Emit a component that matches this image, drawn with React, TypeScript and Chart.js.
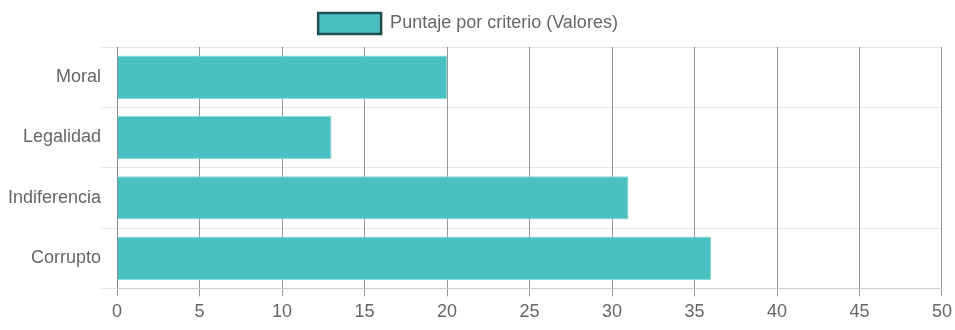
import React, { useEffect, useRef } from "react";
import { Chart, registerables } from "chart.js";

Chart.register(...registerables);

const categories = ["Moral", "Legalidad", "Indiferencia", "Corrupto"];
const values = [20, 13, 31, 36];
const seriesLabel = "Puntaje por criterio (Valores)";

export default function App() {
  const ref = useRef<HTMLCanvasElement | null>(null);
  useEffect(() => {
    if (!ref.current) return;
    Chart.defaults.font.family = "'Liberation Sans', Arial, sans-serif";
    Chart.defaults.color = "#666";
    const legendTweak = {
      id: "legendTweak",
      afterInit(chart: any) {
        const lg = chart.legend;
        if (lg) {
          const orig = lg.fit.bind(lg);
          lg.fit = function () {
            orig();
            this.height += 3;
          };
        }
      },
      afterLayout(chart: any) {
        if (chart.legend) chart.legend.right -= 27;
      },
    };
    const chart = new Chart(ref.current, {
      type: "bar",
      data: {
        labels: categories,
        datasets: [
          {
            label: seriesLabel,
            data: values,
            backgroundColor: "#4BC0C0",
            borderColor: "#8fdada",
            borderWidth: 1,
          },
        ],
      },
      options: {
        indexAxis: "y",
        animation: false,
        responsive: true,
        maintainAspectRatio: false,
        layout: { padding: { left: 8, top: 0, bottom: 2 } },
        plugins: {
          legend: {
            position: "top",
            labels: {
              font: { size: 18 },
              boxWidth: 63,
              boxHeight: 21,
              padding: 13,
              generateLabels: () => [
                {
                  text: seriesLabel,
                  fillStyle: "#4BC0C0",
                  strokeStyle: "#1f4f4f",
                  lineWidth: 2.5,
                  hidden: false,
                  datasetIndex: 0,
                  fontColor: "#666",
                },
              ],
            },
          },
          tooltip: { enabled: false },
        },
        scales: {
          x: {
            min: 0,
            max: 50,
            ticks: { stepSize: 5, font: { size: 18 }, color: "#666", padding: 5 },
            grid: { color: "rgba(0,0,0,0.4)" },
            afterFit: (scale: any) => {
              scale.paddingRight = Math.max(0, scale.paddingRight - 2);
            },
          },
          y: {
            ticks: { font: { size: 18 }, color: "#666", padding: 0 },
            grid: { color: "rgba(0,0,0,0.1)", tickLength: 16 },
          },
        },
      },
      plugins: [legendTweak],
    });
    return () => chart.destroy();
  }, []);
  return (
    <div style={{ position: "absolute", left: 0, top: 0, width: 955, height: 330 }}>
      <canvas ref={ref} />
    </div>
  );
}
